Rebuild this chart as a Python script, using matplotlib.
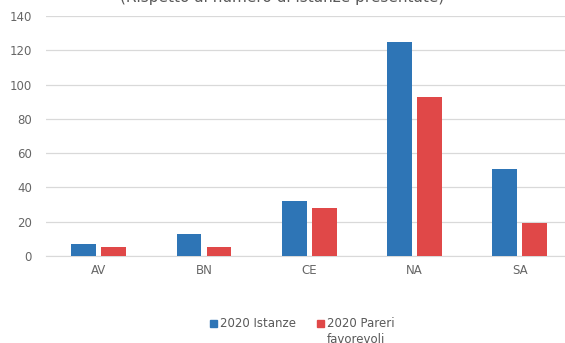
import numpy as np
import matplotlib.pyplot as plt
from matplotlib.patches import Rectangle

# dati per provincia
province = ['AV', 'BN', 'CE', 'NA', 'SA']
istanze = [7, 13, 32, 125, 51]
pareri = [5, 5, 28, 93, 19]
serie = ['2020 Istanze', '2020 Pareri\nfavorevoli']

blu = '#2e75b6'
rosso = '#e04848'

W, H = 565, 343
fig = plt.figure(figsize=(W/100, H/100), dpi=100)
ax = fig.add_axes([46/W, 87/H, 519/W, 240/H])

x = np.arange(len(province))
w = 0.235
ax.bar(x - w/2 - 0.025, istanze, width=w, color=blu, zorder=3)
ax.bar(x + w/2 + 0.025, pareri, width=w, color=rosso, zorder=3)

ax.set_xlim(-0.5, -0.5 + 519/105.3)
ax.set_ylim(0, 140)
ax.set_yticks(range(0, 141, 20))
ax.set_xticks(x)
ax.set_xticklabels(province)
ax.yaxis.grid(True, color='#d9d9d9', linewidth=0.9, zorder=0)
for s in ax.spines.values():
    s.set_visible(False)
ax.spines['bottom'].set_visible(True)
ax.spines['bottom'].set_color('#d9d9d9')
ax.tick_params(length=0, labelsize=8.5, colors='#666666', pad=6)
ax.tick_params(axis='y', pad=10)

# titolo tagliato in alto
fig.text(0.5, 1.008, '(Rispetto al numero di istanze presentate)', ha='center', va='center',
         fontsize=11, color='#595959')

# legenda fatta a mano (come in Excel, testo a capo)
for xp, col, lab in [(210, blu, serie[0]), (317, rosso, serie[1])]:
    fig.add_artist(Rectangle((xp/W, (H-327)/H), 7/W, 7/H, color=col,
                             transform=fig.transFigure))
    fig.text((xp+10)/W, (H-317)/H, lab, ha='left', va='top', fontsize=8.5,
             color='#595959', linespacing=1.3)

fig.savefig('out.png', dpi=100)
